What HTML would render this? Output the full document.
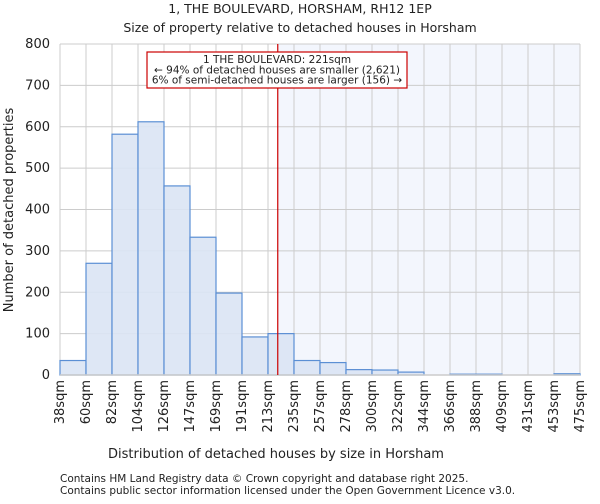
<!DOCTYPE html>
<html><head><meta charset="utf-8"><style>
body{margin:0;background:#fff;font-family:"DejaVu Sans","Liberation Sans",sans-serif;}
text{font-family:"DejaVu Sans","Liberation Sans",sans-serif;fill:#222;}
</style></head><body>
<svg id="chart" width="600" height="500" viewBox="0 0 600 500">
<text x="300" y="13" font-size="12.5" text-anchor="middle">1, THE BOULEVARD, HORSHAM, RH12 1EP</text>
<text x="300" y="32" font-size="12.5" text-anchor="middle">Size of property relative to detached houses in Horsham</text>
<g id="plot"></g>
<text x="276" y="458" font-size="13" text-anchor="middle">Distribution of detached houses by size in Horsham</text>
<text transform="translate(13,210) rotate(-90)" font-size="13" text-anchor="middle">Number of detached properties</text>
<text x="60" y="482" font-size="10.5">Contains HM Land Registry data © Crown copyright and database right 2025.</text>
<text x="60" y="494" font-size="10.5">Contains public sector information licensed under the Open Government Licence v3.0.</text>
</svg>
<script>
const tickLabels=["38sqm","60sqm","82sqm","104sqm","126sqm","147sqm","169sqm","191sqm","213sqm","235sqm","257sqm","278sqm","300sqm","322sqm","344sqm","366sqm","388sqm","409sqm","431sqm","453sqm","475sqm"];
const counts=[35,270,582,612,457,333,198,92,100,35,30,13,12,7,0,2,2,0,0,3];
const yTicks=[0,100,200,300,400,500,600,700,800];
const binStart=38, binWidth=21.85, markerValue=221;
const L=60,R=580,T=44,B=375,yMax=800;
const n=counts.length, bw=(R-L)/n;
const xs=v=>L+(v-binStart)/binWidth*bw;
const ys=v=>B-v/yMax*(B-T);
const NS="http://www.w3.org/2000/svg";
const g=document.getElementById('plot');
function mk(t,a){const e=document.createElementNS(NS,t);for(const k in a)e.setAttribute(k,a[k]);g.appendChild(e);return e;}
const mx=xs(markerValue);
let e=mk('rect',{x:mx,y:T,width:R-mx,height:B-T,fill:'#f3f6fd'});


yTicks.forEach(v=>{
 let l=mk('line',{x1:L,x2:R,y1:ys(v),y2:ys(v),stroke:'#ccc','stroke-width':1});
 
 
 let t=mk('text',{x:L-10,y:ys(v)+4,'font-size':13,'text-anchor':'end'});t.textContent=v;
 
 
});
tickLabels.forEach((s,i)=>{
 const x=L+i*bw;
 let l=mk('line',{x1:x,x2:x,y1:T,y2:B,stroke:'#ccc','stroke-width':1});
 
 
 let t=mk('text',{transform:`translate(${x+4},380) rotate(-90)`,'font-size':13,'text-anchor':'end'});t.textContent=s;
 
 
});
counts.forEach((c,i)=>{
 if(c<=0)return;
 let r=mk('rect',{x:L+i*bw,y:ys(c),width:bw,height:B-ys(c),fill:'#dae4f4',stroke:'#5b8fd4','stroke-width':1.2,'fill-opacity':0.9});
 
 
});
let ax=mk('line',{x1:L,x2:R,y1:B,y2:B,stroke:'#ccc','stroke-width':1.5});


let ml=mk('line',{x1:mx,x2:mx,y1:T,y2:B,stroke:'#cc0000','stroke-width':1.2});


let box=mk('rect',{x:147,y:52,width:260,height:36,fill:'#fff',stroke:'#cc0000','stroke-width':1.2});


["1 THE BOULEVARD: 221sqm","← 94% of detached houses are smaller (2,621)","6% of semi-detached houses are larger (156) →"].forEach((s,i)=>{
 let t=mk('text',{x:277,y:63+i*10.3,'font-size':10.5,'text-anchor':'middle'});t.textContent=s;
 
 
});
</script>
</body></html>
